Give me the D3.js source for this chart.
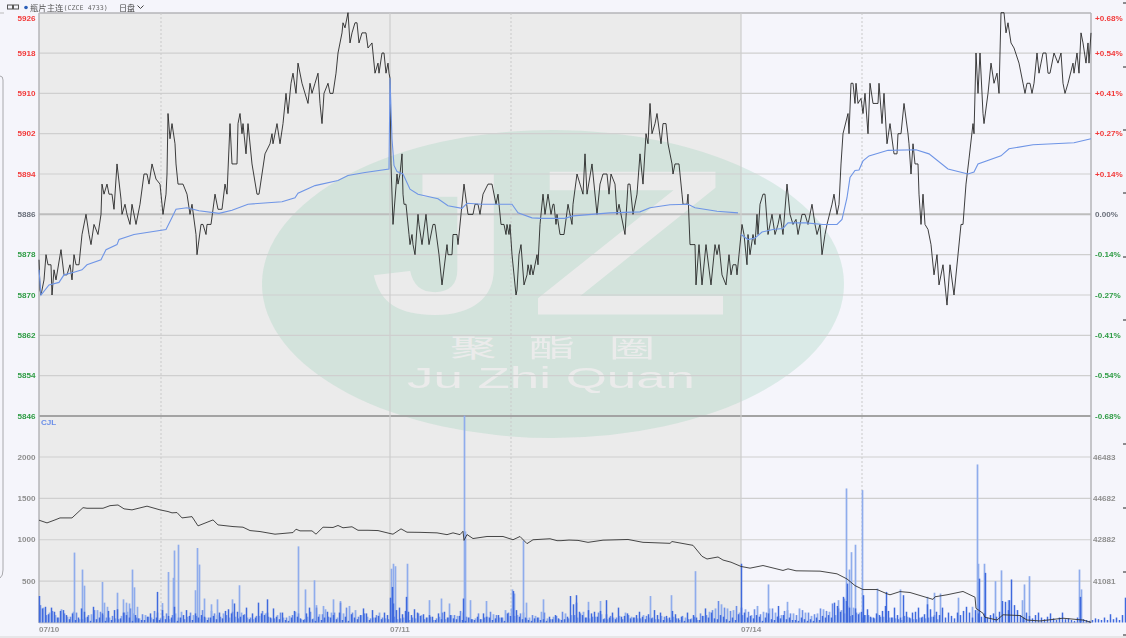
<!DOCTYPE html>
<html><head><meta charset="utf-8">
<script src="https://cdn.jsdelivr.net/npm/d3@7/dist/d3.min.js"></script>
<style>html,body{margin:0;padding:0;background:#f5f5fb;overflow:hidden}svg{display:block;filter:blur(0.4px)}</style>
</head><body><svg id="c" width="1126" height="638"></svg>
<script>
const priceTicks=[5926,5918,5910,5902,5894,5886,5878,5870,5862,5854,5846];
const pctTicks=["+0.68%","+0.54%","+0.41%","+0.27%","+0.14%","0.00%","-0.14%","-0.27%","-0.41%","-0.54%","-0.68%"];
const volTicks=[2000,1500,1000,500];
const oiTicks=[46483,44682,42882,41081];
const dateLabels=[[0,"07/10"],[351,"07/11"],[702,"07/14"]];
const dottedT=[122,472,823];
const priceT=[0,1,2,5,7,9,12,13,15,17,22,25,28,31,33,35,37,40,43,47,50,52,55,59,62,63,65,68,70,73,75,78,82,83,86,88,91,93,97,101,105,108,110,113,117,121,124,127,128,129,131,133,136,137,139,144,148,151,153,157,158,162,164,167,168,172,176,179,183,186,188,191,193,198,199,201,203,204,207,209,213,218,220,223,226,231,233,234,238,241,244,247,249,252,254,257,259,263,266,269,271,273,276,279,281,283,285,289,291,294,297,299,303,304,306,309,311,313,316,318,320,323,327,329,333,336,339,340,343,345,347,349,350,351,352,354,358,359,361,363,364,365,367,370,371,373,374,376,379,380,383,387,390,394,396,400,403,408,409,413,414,418,419,422,425,429,434,436,439,441,444,449,453,457,459,462,465,467,468,470,471,473,477,478,480,482,485,488,489,491,492,494,496,498,499,501,504,506,509,512,514,515,517,518,521,525,529,533,534,538,541,544,546,548,553,558,561,564,568,570,572,576,578,580,586,589,591,594,598,601,604,607,609,611,613,616,618,622,624,627,629,633,634,636,640,643,644,648,649,651,656,657,660,663,667,672,676,678,680,683,687,690,692,694,697,698,700,702,703,705,708,709,711,714,716,718,719,721,724,726,729,733,736,739,741,744,748,751,754,757,759,763,766,769,773,776,778,781,783,786,788,793,795,798,800,802,804,809,810,812,814,816,817,819,822,824,826,829,831,834,839,840,843,845,848,851,855,858,859,862,865,869,870,872,874,876,879,880,882,884,886,889,892,895,898,900,904,908,911,915,919,922,924,927,930,934,935,937,939,941,944,945,949,952,955,958,960,962,965,967,969,972,975,980,984,986,988,991,993,995,998,1000,1002,1004,1007,1009,1011,1015,1019,1022,1024,1026,1029,1034,1035,1038,1040,1042,1044,1047,1049,1050,1052];
const priceV=[5877,5871,5870,5873,5878,5876,5876,5870,5875,5873,5879,5874,5874,5876,5873,5878,5876,5876,5882,5886,5882,5880,5884,5882,5886,5892,5890,5892,5890,5890,5887,5896,5889,5886,5888,5886,5884,5888,5884,5888,5894,5894,5892,5896,5893,5892,5886,5890,5894,5906,5901,5904,5900,5896,5892,5892,5890,5886,5888,5882,5878,5884,5884,5882,5884,5884,5890,5887,5887,5892,5890,5904,5896,5896,5904,5906,5902,5904,5898,5904,5896,5890,5890,5894,5898,5900,5902,5900,5904,5900,5904,5910,5906,5912,5914,5910,5916,5912,5910,5908,5912,5910,5912,5914,5908,5904,5910,5912,5910,5910,5914,5918,5922,5924,5923,5926,5920,5922,5924,5924,5920,5922,5922,5919,5920,5914,5916,5914,5918,5918,5914,5916,5914,5913,5896,5884,5894,5892,5894,5898,5890,5888,5888,5882,5880,5882,5880,5878,5886,5884,5880,5886,5880,5884,5884,5878,5872,5880,5878,5878,5882,5882,5880,5886,5892,5886,5886,5888,5888,5886,5890,5892,5892,5888,5890,5884,5884,5882,5884,5882,5884,5878,5870,5871,5878,5880,5872,5874,5876,5874,5876,5874,5876,5878,5876,5884,5890,5886,5890,5886,5888,5888,5884,5886,5882,5882,5888,5884,5888,5894,5892,5890,5898,5890,5896,5886,5892,5894,5894,5890,5894,5892,5886,5888,5882,5892,5892,5886,5890,5898,5892,5902,5900,5908,5902,5904,5906,5900,5904,5904,5900,5896,5894,5896,5896,5890,5888,5888,5890,5880,5880,5872,5880,5872,5880,5872,5880,5878,5880,5874,5872,5878,5874,5876,5876,5874,5878,5882,5884,5882,5876,5882,5878,5882,5880,5886,5882,5888,5890,5890,5882,5886,5882,5884,5886,5882,5892,5886,5884,5885,5882,5886,5886,5884,5888,5884,5882,5884,5878,5882,5884,5888,5890,5886,5888,5896,5902,5906,5902,5912,5912,5908,5912,5908,5909,5906,5910,5902,5912,5908,5908,5912,5904,5910,5900,5904,5898,5898,5902,5902,5908,5902,5900,5894,5900,5896,5896,5890,5884,5890,5884,5883,5880,5874,5878,5872,5876,5868,5876,5870,5878,5884,5884,5892,5897,5904,5902,5918,5910,5918,5906,5904,5910,5916,5912,5914,5910,5926,5926,5922,5924,5920,5919,5916,5912,5910,5912,5912,5910,5912,5918,5914,5916,5918,5918,5914,5914,5918,5916,5918,5912,5910,5912,5916,5914,5918,5914,5922,5920,5916,5920,5916,5922];
const vwapT=[0,2,10,20,25,35,43,48,62,67,78,80,95,127,132,137,148,160,180,193,209,243,256,259,276,299,309,326,350,351,353,355,358,364,371,379,399,409,423,428,443,473,479,493,503,526,534,571,601,611,631,649,656,678,699,702,709,716,723,734,744,749,767,784,798,803,808,811,816,820,824,830,849,877,890,909,929,935,939,962,970,994,1035,1052];
const vwapV=[5875,5870,5872,5872.5,5874,5874.5,5875,5876,5877,5879,5880,5881,5882,5883,5885,5887,5887.3,5886.7,5886.2,5886.8,5888,5888.5,5889.3,5890.2,5891.7,5892.7,5893.7,5894.3,5895,5913,5901,5895.7,5894.5,5894,5891,5890,5889.1,5887.7,5887.2,5888.2,5888,5888,5886.3,5885.3,5885.2,5885.2,5885.7,5886.3,5886.5,5887.3,5887.9,5888,5887.3,5886.6,5886.3,5882,5881,5881.3,5882.5,5883,5883.2,5884.3,5884.3,5884,5884,5885,5889.3,5893.3,5894.7,5894.8,5896.6,5897.6,5898.7,5898.8,5898,5895,5894,5894.4,5896,5897.6,5899,5899.8,5900.2,5901];
const oiX=[0,8,16,21,33,44,48,64,71,79,85,93,108,121,129,133,138,143,153,159,164,174,179,194,204,211,221,236,254,257,261,273,277,284,294,299,304,313,319,329,339,351,354,362,368,381,398,408,414,421,424,425,428,434,448,464,474,481,488,494,511,518,522,530,539,549,564,589,604,608,631,633,650,654,663,668,679,684,692,702,711,724,744,749,757,781,798,808,816,824,838,848,851,861,871,894,896,908,924,936,937,944,946,958,964,981,988,1001,1024,1044,1052];
const oiY=[43730,43612,43742,43829,43829,44276,44250,44250,44363,44393,44224,44180,44341,44180,44107,44050,44063,43829,43885,43482,43569,43742,43525,43452,43425,43278,43235,43121,43191,43338,43265,43265,43121,43425,43413,43500,43399,43443,43291,43291,43278,43149,43121,43352,43207,43200,43178,43100,43178,43100,43250,42850,43105,42930,43020,43020,42878,43020,42708,42878,42921,42838,42838,42865,42850,42765,42860,42890,42765,42760,42722,42800,42665,42635,42157,42040,42127,41994,41900,41715,41640,41755,41540,41610,41525,41510,41393,41170,40880,40710,40710,40523,40480,40620,40580,40280,40393,40480,40625,40375,39890,39675,39500,39380,39610,39575,39380,39340,39460,39380,39280];
const baseDark=[320,170,190,100,180,130,60,140,150,90,40,110,30,60,170,130,70,20,190,40,60,110,20,140,30,150,160,50,120,90,60,20,90,50,30,30,70,110,40,60,30,150,40,80,60,190,20,60,90,150,80,30,110,60,90,70,30,60,80,40,120,50,140,160,110,230,130,70,90,180,40,110,60,240,110,90,120,60,170,70,40,120,30,20,60,140,70,50,30,110,180,40,20,70,30,60,130,60,90,40,120,30,70,20,100,60,40,90,170,110,30,150,60,80,40,120,90,
300,230,150,180,100,140,130,90,160,120,80,100,60,90,70,30,110,40,130,60,90,50,40,80,30,20,60,40,30,70,40,110,70,60,30,50,90,60,20,110,80,380,150,70,40,60,30,20,50,60,30,40,20,70,40,90,50,30,40,70,320,220,240,130,90,60,150,110,130,70,140,40,100,60,120,40,180,70,80,110,50,60,90,130,70,40,100,50,150,90,120,30,80,60,140,100,50,70,20,120,40,90,60,30,80,170,60,120,50,40,90,70,40,20,60,30,100,
180,120,60,80,50,90,70,20,60,110,40,30,70,50,90,40,60,30,30,20,60,40,20,40,20,60,30,80,60,90,60,240,200,130,310,260,180,90,170,100,130,90,160,70,60,110,90,140,200,140,60,180,90,60,70,130,60,120,130,180,60,100,220,160,70,130,90,180,60,120,80,50,120,90,140,190,120,60,150,110,70,110,60,90,110,70,130,260,250,150,520,210,150,90,60,120,80,50,90,120,60,40,70,110,50,30,60,120,40,50,30,20,60,40,40,30,20,30,50,40,30,60,30,100,40,60,30,90,300,140,60,50,80,40,60];
const baseLight=[180,120,90,160,70,130,40,60,100,150,90,60,50,80,130,110,50,90,60,120,80,40,110,130,70,90,40,60,140,90,110,60,70,120,60,40,80,110,50,90,60,80,130,40,70,50,100,160,120,60,
110,200,150,90,70,60,120,50,80,40,60,30,50,90,60,30,70,40,90,80,120,60,50,40,70,100,60,150,170,90,120,60,80,130,50,70,40,110,90,60,130,50,70,100,40,60,80,120,70,50,
90,60,40,80,50,70,30,60,50,30,80,130,170,220,170,150,120,160,90,200,130,170,120,90,150,110,170,120,80,110,160,130,90,150,200,180,120,90,60,100,70,60,50,30,70,40,60,50,70,40];
const baseMid=[210,90,140,60,110,70,120,40,90,150,130,60,80,40,120,170,60,100,70,140,50,110,90,60,40,120,80,150,60,110,70,90,130,50,100,60,80,140,70,50,120,60,90,110,40,130,180,100,70,120,
240,180,120,70,110,50,90,60,40,70,50,80,60,110,40,70,50,120,60,90,140,70,40,110,60,130,90,60,120,80,110,50,90,60,120,40,80,130,50,90,110,60,70,120,50,80,60,40,90,60,
50,80,60,40,70,30,50,80,40,70,110,90,150,260,180,140,200,90,130,160,100,120,170,80,140,110,90,150,120,100,170,140,230,170,110,80,120,60,90,50,70,30,60,40,80,50,40,70,60,90];
const lightSpikeT=[35,43,45,63,65,68,78,84,87,90,93,95,98,123,129,134,135,139,156,158,160,165,172,178,193,200,259,266,275,277,284,294,301,352,354,356,368,390,402,410,425,426,431,447,473,475,484,487,504,549,561,611,632,656,729,748,799,805,807,810,812,816,823,838,861,888,895,901,919,933,938,939,945,956,962,969,983,985,990,1040,1042];
const lightSpikeV=[845,640,445,490,240,190,360,280,240,230,640,425,190,235,610,540,870,940,390,900,700,290,220,280,280,450,920,400,510,210,200,280,260,650,710,680,710,270,290,230,2500,1100,270,260,400,350,990,240,280,250,260,320,330,620,460,250,270,290,1620,640,850,940,1600,410,400,310,360,350,300,190,1910,710,710,500,630,270,270,460,560,640,400];
const darkSpikeT=[118,228,353,367,424,537,567,702,739,808,824,847,864,940,946,970,1041];
const darkSpikeV=[370,280,430,310,290,330,270,710,200,470,330,370,330,530,600,270,310];
const xT=d3.scaleLinear().domain([0,1052]).range([39,1091]);
const yP=d3.scaleLinear().domain([5926,5846]).range([12.7,416]);
const yV=d3.scaleLinear().domain([0,2000]).range([622.5,457]);
const yOI=d3.scaleLinear().domain([41081,46483]).range([581,457]);
const svg=d3.select("#c");
const gridC="#cfcfcf",axisC="#b4b4b8",f="'Liberation Sans',Arial,sans-serif";
svg.append("rect").attr("x",xT(0)).attr("y",13).attr("width",xT(702)-xT(0)).attr("height",610).attr("fill","#ebebeb");
const wm=svg.append("g");
wm.append("ellipse").attr("cx",553).attr("cy",284).attr("rx",291).attr("ry",154).attr("fill","rgb(155,208,185)").attr("fill-opacity",.3);
const wmC="#ebebeb";
wm.append("text").text("J").attr("transform","translate(370,313) scale(1.25,1)").attr("font-family",f).attr("font-weight","bold").attr("font-size",203).attr("fill",wmC);
wm.append("text").text("Z").attr("transform","translate(530,313) scale(1.62,1)").attr("font-family",f).attr("font-size",203).attr("fill",wmC).attr("stroke",wmC).attr("stroke-width",3);
[["聚",473],["酯",552],["圈",632]].forEach(d=>wm.append("text").text(d[0]).attr("transform",`translate(${d[1]},357) scale(1.85,1)`).attr("text-anchor","middle").attr("font-family","'Noto Sans CJK SC'").attr("font-size",25).attr("fill",wmC));
wm.append("text").text("Ju Zhi Quan").attr("x",407).attr("y",388).attr("textLength",288).attr("lengthAdjust","spacingAndGlyphs").attr("font-family",f).attr("font-size",30).attr("fill",wmC);
const hl=(y,c,w)=>svg.append("line").attr("x1",39).attr("x2",1091).attr("y1",y).attr("y2",y).attr("stroke",c).attr("stroke-width",w);
priceTicks.slice(1,-1).forEach(p=>hl(yP(p),p===5886?"#bdbdbd":gridC,p===5886?2:1.2));
volTicks.forEach(v=>hl(yV(v),gridC,1.2));
hl(13,axisC,1.5);hl(416,"#a3a3a3",2);hl(622.8,axisC,1);
dateLabels.slice(1).forEach(d=>svg.append("line").attr("x1",xT(d[0])).attr("x2",xT(d[0])).attr("y1",13).attr("y2",622).attr("stroke","#cdcdcd").attr("stroke-width",1.2));
dottedT.forEach(t=>svg.append("line").attr("x1",xT(t)).attr("x2",xT(t)).attr("y1",13).attr("y2",622).attr("stroke","#c9c9c9").attr("stroke-width",1).attr("stroke-dasharray","2 2"));
[39,1091].forEach(x=>svg.append("line").attr("x1",x).attr("x2",x).attr("y1",13).attr("y2",623).attr("stroke",axisC).attr("stroke-width",1.5));
const barsLay=(arr,color,w)=>svg.append("g").selectAll("line").data(arr).join("line")
 .attr("x1",d=>xT(d[0])+.5).attr("x2",d=>xT(d[0])+.5).attr("y1",yV(0)).attr("y2",d=>yV(d[1])).attr("stroke",color).attr("stroke-width",w);
barsLay(lightSpikeT.map((t,i)=>[t,lightSpikeV[i]]),"#8facec",1.7);
barsLay(baseLight.map((v,i)=>[i*6+4,v]),"#8facec",1.8);
barsLay(baseMid.map((v,i)=>[i*6+1,v]),"#6c8ee6",1.6);
barsLay(baseDark.map((v,i)=>[i*3,v]),"#3f69dd",1.5);
barsLay(darkSpikeT.map((t,i)=>[t,darkSpikeV[i]]),"#3f69dd",1.5);
svg.append("path").attr("d",d3.line().x(d=>xT(d[0])).y(d=>yOI(d[1]))(oiX.map((t,i)=>[t,oiY[i]]))).attr("fill","none").attr("stroke","#333").attr("stroke-width",.9);
const lineP=d3.line().x(d=>xT(d[0])).y(d=>yP(d[1]));
svg.append("path").attr("d",lineP(priceT.map((t,i)=>[t,priceV[i]]))).attr("fill","none").attr("stroke","#1c1c1c").attr("stroke-width",.85);
const vw=vwapT.map((t,i)=>[t,vwapV[i]]);
svg.append("path").attr("d",lineP(vw.filter(d=>d[0]<=699))).attr("fill","none").attr("stroke","#6f95e6").attr("stroke-width",1.1);
svg.append("path").attr("d",lineP(vw.filter(d=>d[0]>=702))).attr("fill","none").attr("stroke","#6f95e6").attr("stroke-width",1.1);
const t=(s,x,y,a,c)=>svg.append("text").text(s).attr("x",x).attr("y",y).attr("text-anchor",a).attr("dominant-baseline","central").attr("font-family",f).attr("font-weight","bold").attr("font-size",8.1).attr("fill",c);
const pc=p=>p>5886?"#f23a3a":p<5886?"#2f9c45":"#6a6f7a";
priceTicks.forEach((p,i)=>{
 const y=i===0?18:yP(p);
 t(p,35.5,y,"end",pc(p));
 t(pctTicks[i],1095,y,"start",pc(p));
});
volTicks.forEach(v=>t(v,35.5,yV(v),"end","#8f8f8f"));
oiTicks.forEach(v=>t(v,1093,yOI(v),"start","#8f8f8f"));
dateLabels.forEach(d=>t(d[1],xT(d[0]),629.5,"start","#929292"));
t("CJL",41,422,"start","#6a8ee8");
const hdr=svg.append("g");
hdr.append("rect").attr("x",7.5).attr("y",5).attr("width",5).attr("height",4).attr("fill","none").attr("stroke","#555");
hdr.append("rect").attr("x",13.5).attr("y",5).attr("width",5).attr("height",4).attr("fill","none").attr("stroke","#555");
hdr.append("circle").attr("cx",26).attr("cy",7.5).attr("r",1.8).attr("fill","#2b5fb8");
hdr.append("text").text("瓶片主连").attr("x",30).attr("y",11).attr("font-family","'Noto Sans CJK SC'").attr("font-size",8.4).attr("fill","#555");
hdr.append("text").text("(CZCE 4733)").attr("x",63.5).attr("y",10.3).attr("font-family","'DejaVu Sans Mono'").attr("font-size",6.7).attr("fill","#666");
hdr.append("text").text("日盘").attr("x",119).attr("y",11).attr("font-family","'Noto Sans CJK SC'").attr("font-size",8).attr("fill","#444");
hdr.append("path").attr("d",d3.line()([[137.5,5.5],[140.5,8.5],[143.5,5.5]])).attr("fill","none").attr("stroke","#444").attr("stroke-width",1);
svg.append("path").attr("d","M0 76 Q3 76 3 80 L3 570 Q3 576 0 578").attr("fill","none").attr("stroke","#a8a8ac").attr("stroke-width",1);
svg.append("line").attr("x1",0).attr("x2",4).attr("y1",13).attr("y2",13).attr("stroke","#bbb");
svg.append("rect").attr("x",0).attr("y",636).attr("width",1126).attr("height",2).attr("fill","#e6e6e8");
[3,67,130,193,257,320,444,508,572,635].forEach(y=>svg.append("line").attr("x1",1123).attr("x2",1126).attr("y1",y).attr("y2",y).attr("stroke","#222"));
</script></body></html>
